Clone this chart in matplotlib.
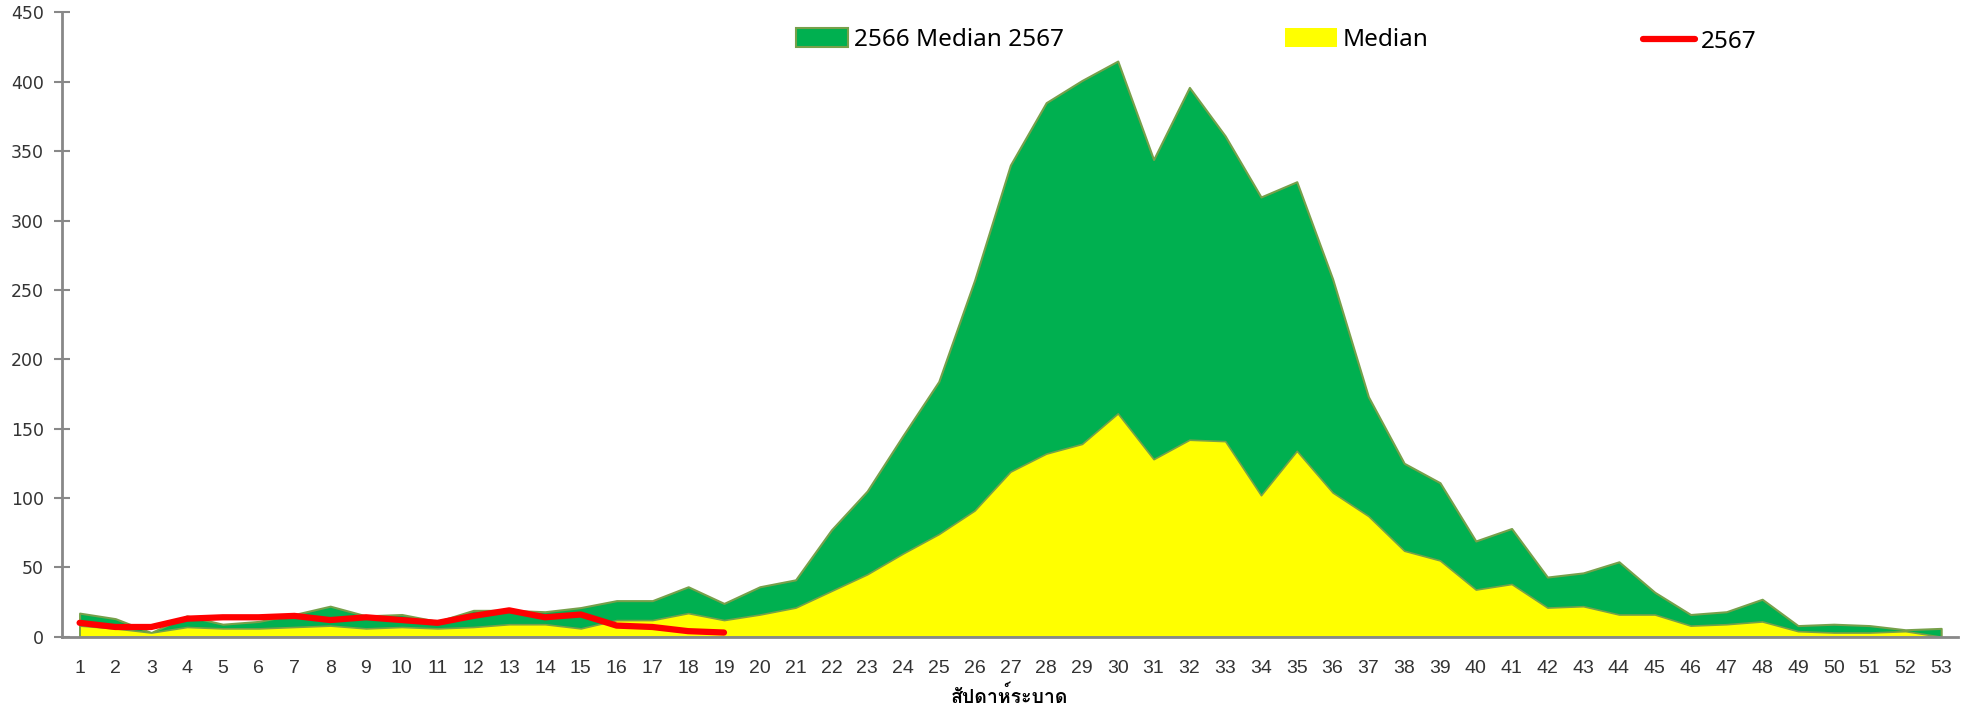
import matplotlib
matplotlib.use("Agg")
import matplotlib.pyplot as plt
from matplotlib.patches import Patch
from matplotlib.lines import Line2D

weeks = list(range(1, 54))
green_2566 = [17, 13, 3, 15, 9, 11, 16, 22, 15, 16, 11, 19, 19, 18, 21, 26, 26, 36, 24, 36,
              41, 77, 105, 145, 184, 257, 340, 385, 401, 415, 344, 396, 361, 317, 328, 258,
              173, 125, 111, 69, 78, 43, 46, 54, 32, 16, 18, 27, 8, 9, 8, 5, 6]
median = [8, 6, 3, 7, 6, 6, 7, 8, 6, 7, 6, 7, 9, 9, 6, 12, 12, 17, 12, 16,
          21, 33, 45, 60, 74, 91, 119, 132, 139, 161, 128, 142, 141, 102, 134, 104,
          87, 62, 55, 34, 38, 21, 22, 16, 16, 8, 9, 11, 4, 3, 3, 4, 0]
weeks_2567 = list(range(1, 20))
cases_2567 = [10, 7, 7, 13, 14, 14, 15, 12, 14, 12, 10, 15, 19, 14, 16, 8, 7, 4, 3]

legend_labels = ["2566 Median 2567", "Median", "2567"]
xlabel = "สัปดาห์ระบาด"

GREEN = "#00B050"
EDGE = "#77A04A"
YELLOW = "#FFFF00"
RED = "#FF0000"
AXC = "#888888"

fig = plt.figure(figsize=(19.62, 7.07), dpi=100)
ax = fig.add_axes([61.7 / 1962, 70.3 / 707, (1958 - 61.7) / 1962, (636.7 - 12.5) / 707])

ax.fill_between(weeks, 0, green_2566, color=GREEN, edgecolor=EDGE, linewidth=1.5, zorder=2)
ax.fill_between(weeks, 0, median, color=YELLOW, edgecolor=EDGE, linewidth=1.2, zorder=3)
ax.plot(weeks_2567, cases_2567, color=RED, linewidth=4.5, solid_capstyle="round",
        solid_joinstyle="round", zorder=4)

ax.set_xlim(0.5, 53.47)
ax.set_ylim(0, 450)
ax.set_xticks(weeks)
ax.set_xticklabels([str(w) for w in weeks], fontsize=14, color="#333333",
                   family="Liberation Sans")
ax.tick_params(axis="x", length=0, pad=17)
ax.set_yticks(range(0, 451, 50))
ax.tick_params(axis="y", direction="inout", length=11.5, width=1.5, color=AXC,
               labelsize=12.5, labelcolor="#333333", pad=7)
for s in ["top", "right"]:
    ax.spines[s].set_visible(False)
for s in ["left", "bottom"]:
    ax.spines[s].set_color(AXC)
    ax.spines[s].set_linewidth(2)
ax.spines["bottom"].set_zorder(5)

ax.set_xlabel(xlabel, fontsize=14, fontweight="bold",
              family=["Loma", "IBM Plex Sans Thai Looped", "Sarabun", "DejaVu Sans"], labelpad=6)

lk = dict(frameon=False, handlelength=2.14, handleheight=0.82, handletextpad=0.25,
          borderpad=0, borderaxespad=0, prop={"family": "Noto Sans", "size": 17.5})
fig.legend([Patch(facecolor=GREEN, edgecolor=EDGE, linewidth=1.5)], [legend_labels[0]],
           loc="upper left", bbox_to_anchor=(796 / 1962, 1 - 28 / 707), **lk)
fig.legend([Patch(facecolor=YELLOW, edgecolor="none")], [legend_labels[1]],
           loc="upper left", bbox_to_anchor=(1285 / 1962, 1 - 28 / 707), **lk)
fig.legend([Line2D([0], [0], color=RED, linewidth=4.5, solid_capstyle="round")], [legend_labels[2]],
           loc="upper left", bbox_to_anchor=(1643 / 1962, 1 - 30 / 707), **lk)

fig.savefig("out.png", dpi=100)
